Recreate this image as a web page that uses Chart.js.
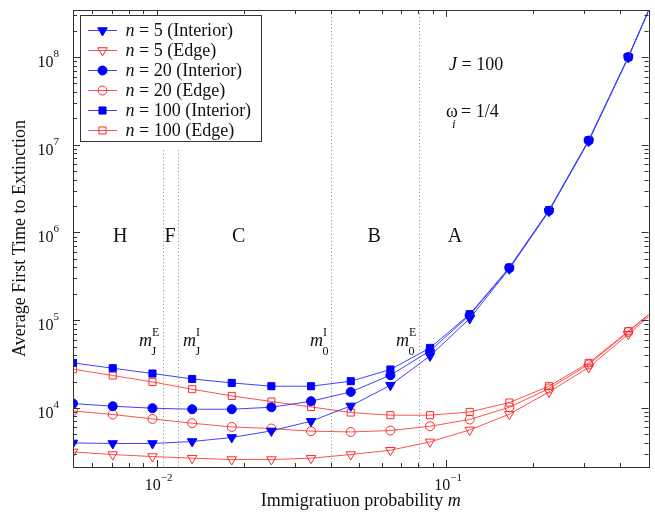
<!DOCTYPE html>
<html><head><meta charset="utf-8">
<script src="https://cdn.jsdelivr.net/npm/chart.js@4/dist/chart.umd.min.js"></script>
<style>html,body{margin:0;padding:0;background:#fff;}</style>
</head><body>
<canvas id="c" width="655" height="517"></canvas>
<script>
// ---------------- data ----------------
const mValues = [0.00514,0.00705,0.00967,0.01326,0.01817,0.02490,0.03414,0.04682,0.06418,0.08796,0.1206,0.1653,0.2266,0.3107,0.4258,0.584];
const n5Interior   = [3990,3930,3930,4140,4600,5470,7050,10540,18150,39170,104500,385000,1.75e6,1.10e7,0.99e8,1.08e9];
const n5Edge       = [3150,2940,2790,2670,2580,2580,2670,2940,3290,4100,5610,8480,15220,28890,69230,1.70e5];
const n20Interior  = [11220,10450,9920,9660,9660,10180,11920,15220,23600,44670,114000,392000,1.77e6,1.115e7,1.00e8,1.09e9];
const n20Edge      = [9240,8410,7490,6690,6070,5820,5430,5320,5520,6180,7370,10180,16640,31260,73570,1.75e5];
const n100Interior = [32600,28360,24670,21410,19280,17680,17680,20160,27410,48310,117000,399000,1.796e6,1.128e7,1.005e8,1.10e9];
const n100Edge     = [27630,23410,19790,16340,13700,11830,10260,8860,8260,8260,9000,11520,17680,32600,74900,1.78e5];

const seriesLabels = ['5 (Interior)','5 (Edge)','20 (Interior)','20 (Edge)','100 (Interior)','100 (Edge)'];

const xMajorTicks = [0.01, 0.1];
const xMajorExp   = ['\u22122', '\u22121'];
const xMinorTicks = [0.006,0.007,0.008,0.009,0.02,0.03,0.04,0.05,0.06,0.07,0.08,0.09,0.2,0.3,0.4,0.5];
const yMajorTicks = [1e4,1e5,1e6,1e7,1e8];
const yMajorExp   = ['4','5','6','7','8'];
const yMinorTicks = [3e3,4e3,5e3,6e3,7e3,8e3,9e3,2e4,3e4,4e4,5e4,6e4,7e4,8e4,9e4,2e5,3e5,4e5,5e5,6e5,7e5,8e5,9e5,
                     2e6,3e6,4e6,5e6,6e6,7e6,8e6,9e6,2e7,3e7,4e7,5e7,6e7,7e7,8e7,9e7,2e8,3e8];

// threshold lines (m values) and top value (null = full height)
const thresholdM   = [0.01048, 0.01189, 0.0401, 0.0804];
const thresholdTop = [8.7e6, 8.7e6, null, null];

const regionLabels = ['H','F','C','B','A'];
const regionM      = [0.00749, 0.01112, 0.01919, 0.0564, 0.1073];

// ---------------- styles ----------------
const BLUE = '#0000ff', BLUE_LINE = '#4040ff';
const RED = '#ff2a2a', RED_LINE = '#ff5050';
const SERIF = '"Liberation Serif", "DejaVu Serif", serif';

function mk(label, vals, interior, style, rot, radius) {
  return {
    label: label,
    data: mValues.map((m, i) => ({x: m, y: vals[i]})),
    showLine: true,
    borderColor: interior ? BLUE_LINE : RED_LINE,
    borderWidth: 1,
    pointStyle: style,
    rotation: rot,
    pointRadius: radius,
    pointHoverRadius: radius,
    pointBackgroundColor: interior ? BLUE : 'rgba(0,0,0,0)',
    pointBorderColor: interior ? BLUE : RED,
    pointBorderWidth: 1,
    tension: 0,
    interior: interior
  };
}

const datasets = [
  mk(seriesLabels[0], n5Interior, true, 'triangle', 180, 5.5),
  mk(seriesLabels[1], n5Edge, false, 'triangle', 180, 5.5),
  mk(seriesLabels[2], n20Interior, true, 'circle', 0, 4.5),
  mk(seriesLabels[3], n20Edge, false, 'circle', 0, 4.5),
  mk(seriesLabels[4], n100Interior, true, 'rect', 0, 5),
  mk(seriesLabels[5], n100Edge, false, 'rect', 0, 5)
];

function drawMarker(ctx, style, rot, r, x, y, fill, stroke) {
  ctx.save();
  ctx.beginPath();
  if (style === 'circle') {
    ctx.arc(x, y, r, 0, Math.PI * 2);
  } else if (style === 'rect') {
    const s = r * Math.SQRT1_2;
    ctx.rect(x - s, y - s, 2 * s, 2 * s);
  } else if (style === 'triangle') {
    let rad = rot * Math.PI / 180;
    for (let k = 0; k < 3; k++) {
      const px = x + Math.sin(rad) * r, py = y - Math.cos(rad) * r;
      if (k === 0) ctx.moveTo(px, py); else ctx.lineTo(px, py);
      rad += 2 * Math.PI / 3;
    }
    ctx.closePath();
  }
  ctx.fillStyle = fill; ctx.fill();
  ctx.strokeStyle = stroke; ctx.lineWidth = 1; ctx.stroke();
  ctx.restore();
}

function txt(ctx, s, x, y, size, italic, align) {
  ctx.font = (italic ? 'italic ' : '') + size + 'px ' + SERIF;
  ctx.textAlign = align || 'left';
  ctx.textBaseline = 'alphabetic';
  ctx.fillText(s, x, y);
  return ctx.measureText(s).width;
}

const decor = {
  id: 'decor',
  beforeDatasetsDraw(chart) {
    const ctx = chart.ctx, xs = chart.scales.x, ys = chart.scales.y, a = chart.chartArea;
    ctx.save();
    ctx.strokeStyle = '#8a8a8a';
    ctx.lineWidth = 1;
    ctx.setLineDash([1, 2.5]);
    thresholdM.forEach((m, i) => {
      const px = Math.round(xs.getPixelForValue(m)) + 0.5;
      const top = thresholdTop[i] === null ? a.top : ys.getPixelForValue(thresholdTop[i]);
      ctx.beginPath(); ctx.moveTo(px, top); ctx.lineTo(px, a.bottom); ctx.stroke();
    });
    ctx.restore();
  },
  afterDatasetsDraw(chart) {
    const ctx = chart.ctx, xs = chart.scales.x, ys = chart.scales.y, a = chart.chartArea;
    ctx.save();
    ctx.fillStyle = '#111';
    ctx.strokeStyle = '#333';
    ctx.lineWidth = 1;
    // box
    ctx.strokeRect(Math.round(a.left) + 0.5, Math.round(a.top) + 0.5, Math.round(a.right - a.left), Math.round(a.bottom - a.top));
    // ticks
    const tick = (vals, len, isX) => {
      vals.forEach(v => {
        ctx.beginPath();
        if (isX) {
          const p = Math.round(xs.getPixelForValue(v)) + 0.5;
          ctx.moveTo(p, a.bottom); ctx.lineTo(p, a.bottom - len);
          ctx.moveTo(p, a.top); ctx.lineTo(p, a.top + len);
        } else {
          const p = Math.round(ys.getPixelForValue(v)) + 0.5;
          ctx.moveTo(a.left, p); ctx.lineTo(a.left + len, p);
          ctx.moveTo(a.right, p); ctx.lineTo(a.right - len, p);
        }
        ctx.stroke();
      });
    };
    tick(xMajorTicks, 7, true); tick(xMinorTicks, 4, true);
    tick(yMajorTicks, 7, false); tick(yMinorTicks, 4, false);

    // tick labels
    ctx.fillStyle = '#111';
    xMajorTicks.forEach((v, i) => {
      const p = xs.getPixelForValue(v);
      ctx.font = '16px ' + SERIF;
      const w10 = ctx.measureText('10').width;
      ctx.font = '11px ' + SERIF;
      const we = ctx.measureText(xMajorExp[i]).width;
      const x0 = p - (w10 + we) / 2 + 2;
      txt(ctx, '10', x0, 490, 16, false);
      txt(ctx, xMajorExp[i], x0 + w10, 481, 11, false);
    });
    yMajorTicks.forEach((v, i) => {
      const p = ys.getPixelForValue(v);
      ctx.font = '11px ' + SERIF;
      const we = ctx.measureText(yMajorExp[i]).width;
      const right = 59;
      txt(ctx, yMajorExp[i], right - we, p, 11, false);
      txt(ctx, '10', right - we, p + 10, 16, false, 'right');
    });

    // axis titles
    ctx.fillStyle = '#111';
    ctx.font = '18px ' + SERIF;
    const s1 = 'Immigratiuon probability ';
    const w1 = ctx.measureText(s1).width;
    ctx.font = 'italic 18px ' + SERIF;
    const w2 = ctx.measureText('m').width;
    const cx = (a.left + a.right) / 2;
    const xs0 = cx - (w1 + w2) / 2;
    txt(ctx, s1, xs0, 506, 18, false);
    txt(ctx, 'm', xs0 + w1, 506, 18, true);

    ctx.save();
    ctx.translate(25, (a.top + a.bottom) / 2);
    ctx.rotate(-Math.PI / 2);
    txt(ctx, 'Average First Time to Extinction', 0, 0, 18, false, 'center');
    ctx.restore();

    // region labels
    regionLabels.forEach((L, i) => {
      txt(ctx, L, xs.getPixelForValue(regionM[i]), 242, 20, false, 'center');
    });

    // threshold labels
    const mlab = (x, sup, sub) => {
      const w = txt(ctx, 'm', x, 346, 18, true);
      txt(ctx, sup, x + w, 336, 12, false);
      txt(ctx, sub, x + w - 0.5, 355, 12, false);
    };
    mlab(139, 'E', 'J');
    mlab(183, 'I', 'J');
    mlab(310, 'I', '0');
    mlab(396, 'E', '0');

    // J = 100, omega
    let wj = txt(ctx, 'J', 449, 70, 18, true);
    txt(ctx, ' = 100', 449 + wj, 70, 18, false);
    let wo = txt(ctx, '\u03c9', 446, 117, 18, false);
    txt(ctx, 'i', 452, 128, 13, true);
    txt(ctx, '= 1/4', 461, 117, 18, false);

    // legend
    const lx = 80, ly = 15, lw = 181, lh = 126;
    ctx.fillStyle = '#fff';
    ctx.fillRect(lx, ly, lw, lh);
    ctx.strokeStyle = '#333';
    ctx.strokeRect(lx + 0.5, ly + 0.5, lw, lh);
    chart.data.datasets.forEach((ds, i) => {
      const y = 30 + 20 * i;
      ctx.strokeStyle = ds.borderColor;
      ctx.lineWidth = 1;
      ctx.beginPath(); ctx.moveTo(88, y + 0.5); ctx.lineTo(117, y + 0.5); ctx.stroke();
      drawMarker(ctx, ds.pointStyle, ds.rotation, ds.pointRadius, 102.5, y + 0.5, ds.pointBackgroundColor, ds.pointBorderColor);
      ctx.fillStyle = '#111';
      const wn = txt(ctx, 'n', 125.5, y + 6, 18, true);
      txt(ctx, ' = ' + ds.label, 125.5 + wn, y + 6, 18, false);
    });
    ctx.restore();
  }
};

new Chart(document.getElementById('c'), {
  type: 'scatter',
  data: { datasets: datasets },
  options: {
    responsive: false,
    animation: false,
    devicePixelRatio: 1,
    layout: { padding: { left: 73, right: 2, top: 10, bottom: 50 } },
    plugins: { legend: { display: false }, tooltip: { enabled: false } },
    scales: {
      x: { type: 'logarithmic', min: 0.00514, max: 0.5, display: false },
      y: { type: 'logarithmic', min: 2120, max: 3.44e8, display: false }
    }
  },
  plugins: [decor]
});
</script>
</body></html>
